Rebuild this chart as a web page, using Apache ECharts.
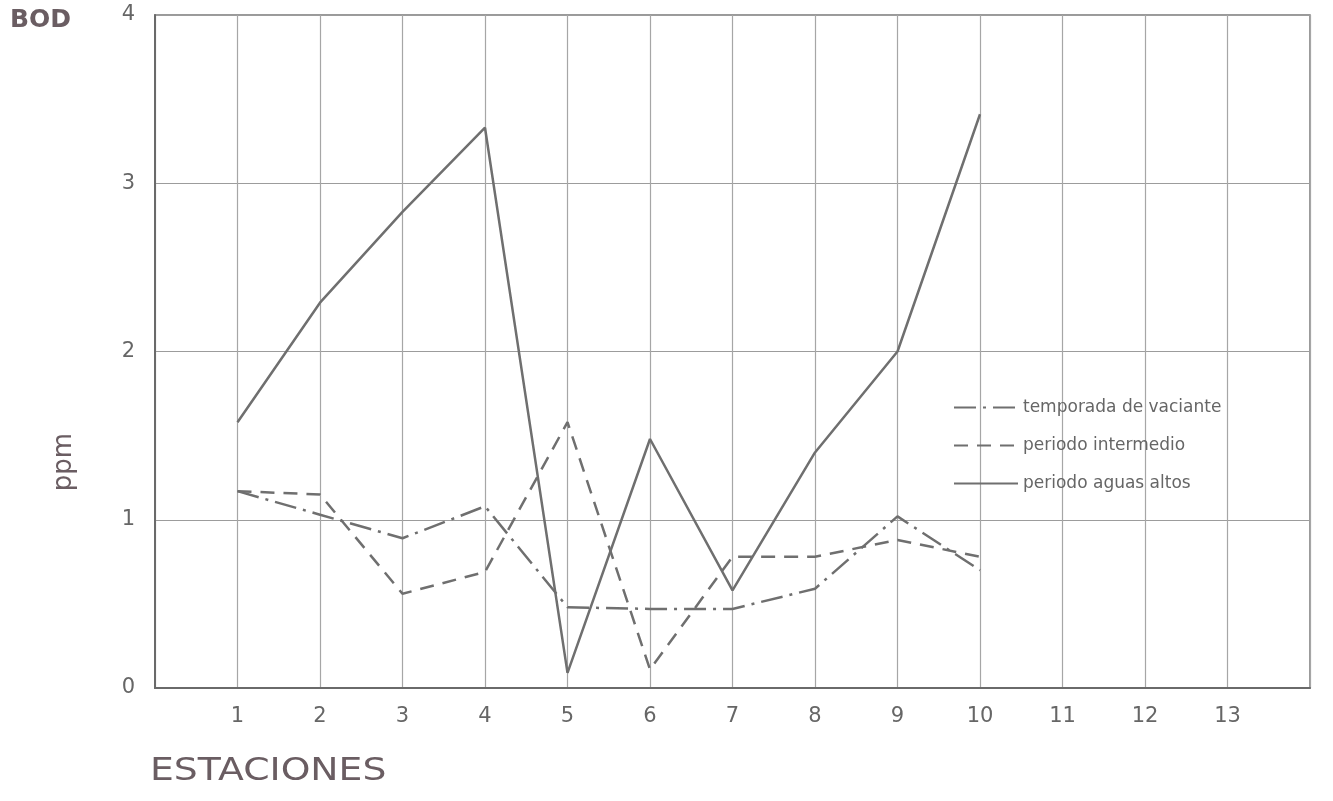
<!DOCTYPE html>
<html>
<head>
<meta charset="utf-8">
<script src="https://cdn.jsdelivr.net/npm/echarts@6/dist/echarts.min.js"></script>
<style>
html,body{margin:0;padding:0;background:#fff;}
#chart{width:1333px;height:801px;}
</style>
</head>
<body>
<div id="chart"></div>
<script>
const stations = [1, 2, 3, 4, 5, 6, 7, 8, 9, 10];
const xTicks = [1, 2, 3, 4, 5, 6, 7, 8, 9, 10, 11, 12, 13];
const yTicks = [0, 1, 2, 3, 4];
const vaciante   = [1.17, 1.03, 0.89, 1.08, 0.48, 0.47, 0.47, 0.59, 1.02, 0.70];
const intermedio = [1.17, 1.15, 0.56, 0.69, 1.58, 0.11, 0.78, 0.78, 0.88, 0.78];
const aguasAltas = [1.58, 2.29, 2.83, 3.33, 0.09, 1.48, 0.58, 1.40, 2.00, 3.41];
const seriesNames = ['temporada de vaciante', 'periodo intermedio', 'periodo aguas altos'];

const pairs = arr => stations.map((s, i) => [s, arr[i]]);
const lineColor = '#6f6f6f';
const font = 'DejaVu Sans, sans-serif';

const chart = echarts.init(document.getElementById('chart'));
chart.setOption({
  backgroundColor: '#ffffff',
  animation: false,
  grid: {left: 155, right: 23, top: 15, bottom: 113, show: true, borderColor: '#7a7a7a', borderWidth: 1.5},
  xAxis: {
    type: 'value', min: 0, max: 14, interval: 1,
    axisLine: {show: true, lineStyle: {color: '#6a6a6a', width: 2}},
    axisTick: {show: false},
    splitLine: {show: true, lineStyle: {color: '#a6a6a6', width: 1.2}},
    axisLabel: {
      margin: 18, fontSize: 21, color: '#666', fontFamily: font,
      formatter: v => xTicks.indexOf(v) >= 0 ? String(v) : ''
    }
  },
  yAxis: {
    type: 'value', min: 0, max: 4, interval: 1,
    axisLine: {show: true, lineStyle: {color: '#6a6a6a', width: 2}},
    axisTick: {show: false},
    splitLine: {show: true, lineStyle: {color: '#9c9c9c', width: 1.2}},
    axisLabel: {
      margin: 20, fontSize: 21, color: '#666', fontFamily: font,
      formatter: v => yTicks.indexOf(v) >= 0 ? String(v) : ''
    }
  },
  legend: {
    orient: 'vertical', left: 948, top: 394, itemGap: 21,
    itemWidth: 64, itemHeight: 14,
    itemStyle: {opacity: 0},
    textStyle: {fontSize: 17, color: '#666', fontFamily: font},
    data: seriesNames
  },
  graphic: [
    {type: 'text', left: 10, top: 8, style: {text: 'BOD', fontSize: 25, fontWeight: 'bold', fill: '#6a5d62', fontFamily: font}},
    {type: 'text', x: 64, y: 462, rotation: Math.PI / 2,
     style: {text: 'ppm', fontSize: 26, fill: '#6a5d62', fontFamily: font, align: 'center', verticalAlign: 'middle'}},
    {type: 'text', x: 150, y: 756, scaleX: 1.18,
     style: {text: 'ESTACIONES', fontSize: 32, fill: '#6a5d62', fontFamily: font}}
  ],
  series: [
    {name: seriesNames[0], type: 'line', symbol: 'none', data: pairs(vaciante), z: 3,
     itemStyle: {color: lineColor},
     lineStyle: {color: lineColor, width: 2.5, type: [22, 7, 3, 7]}},
    {name: seriesNames[1], type: 'line', symbol: 'none', data: pairs(intermedio), z: 3,
     itemStyle: {color: lineColor},
     lineStyle: {color: lineColor, width: 2.5, type: [14, 9]}},
    {name: seriesNames[2], type: 'line', symbol: 'none', data: pairs(aguasAltas), z: 3,
     itemStyle: {color: lineColor},
     lineStyle: {color: lineColor, width: 2.5, type: 'solid'}}
  ]
});
</script>
</body>
</html>
